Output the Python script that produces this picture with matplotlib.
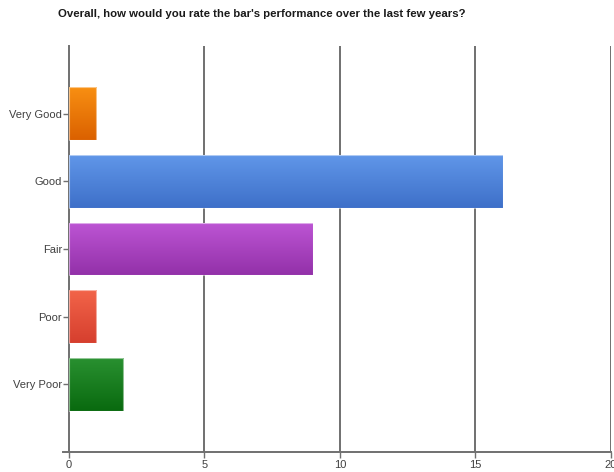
import numpy as np
import matplotlib
matplotlib.use('Agg')
import matplotlib.pyplot as plt
from matplotlib.colors import LinearSegmentedColormap

plt.rcParams['font.family'] = ['Liberation Sans', 'DejaVu Sans']

categories = ['Very Good', 'Good', 'Fair', 'Poor', 'Very Poor']
counts = [1, 16, 9, 1, 2]
# top / bottom shade for each bar
shades = [('#f88f12', '#db6100'),
          ('#6096e8', '#3e70c9'),
          ('#bd55d4', '#9331a9'),
          ('#f26449', '#d63f2e'),
          ('#299030', '#096a0f')]
xticks = [0, 5, 10, 15, 20]

fig = plt.figure(figsize=(6.14, 4.72), dpi=100)
ax = fig.add_axes([0.1124, 0.0424, 0.8826, 0.8601])

pos = np.arange(len(categories))
bars = ax.barh(pos, counts, height=0.78, color='none', edgecolor='none', zorder=3)

grad = np.linspace(0, 1, 64).reshape(-1, 1)
for bar, (top, bottom) in zip(bars, shades):
    cmap = LinearSegmentedColormap.from_list('g', [top, bottom])
    x0, y0 = bar.get_x(), bar.get_y()
    w, h = bar.get_width(), bar.get_height()
    im = ax.imshow(grad, cmap=cmap, aspect='auto', zorder=3,
                   extent=(x0, x0 + w, y0 + h, y0), origin='upper')
    im.set_clip_path(bar)
    ax.add_patch(plt.Rectangle((x0, y0), w, h, fill=False,
                               edgecolor=(1, 1, 1, 0.5), lw=0.8, zorder=4))

ax.set_ylim(len(categories), -1)
ax.set_xlim(0, 20)
ax.set_yticks(pos)
ax.set_yticklabels(categories)
ax.set_xticks(xticks)
ax.set_xticklabels([str(t) for t in xticks])

for x in xticks[1:]:
    ax.axvline(x, color='#707070', lw=1.4, zorder=1)

for side in ['top', 'right']:
    ax.spines[side].set_visible(False)
for side in ['left', 'bottom']:
    ax.spines[side].set_color('#707070')
    ax.spines[side].set_linewidth(1.4)
ax.spines['bottom'].set_bounds(-0.22, 20)
ax.tick_params(axis='y', length=4, width=1, color='#707070',
               labelsize=8, labelcolor='#404040', pad=1)
ax.tick_params(axis='x', length=4, width=1, color='#707070',
               labelsize=8, labelcolor='#404040', pad=2)

fig.text(0.427, 0.970, "Overall, how would you rate the bar's performance over the last few years?",
         ha='center', va='center', fontsize=8.2, fontweight='bold', color='#1a1a1a')

fig.savefig('out.png', dpi=100)
